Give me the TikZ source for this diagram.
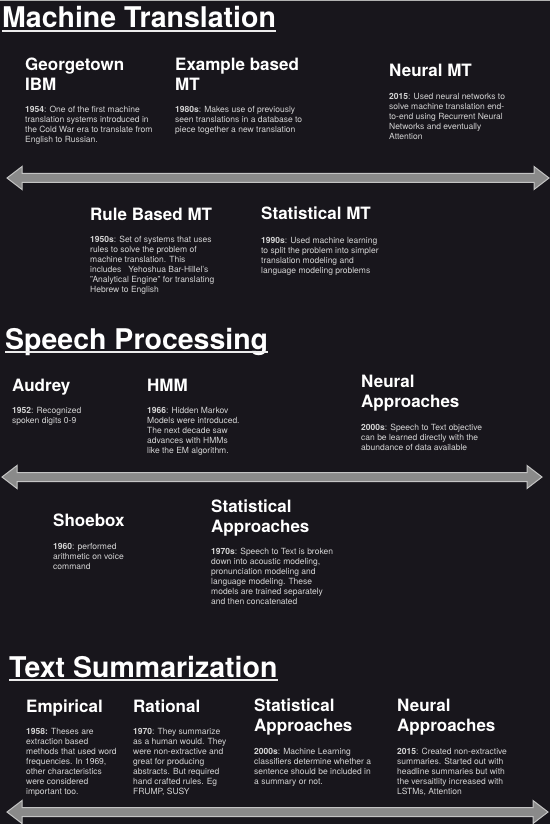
\documentclass[tikz,border=0pt]{standalone}
\usepackage{fontspec}
\setmainfont{TeX Gyre Heros}
\usetikzlibrary{calc}
\definecolor{bg}{HTML}{18161C}
\definecolor{desccol}{HTML}{D4D4D4}
\definecolor{arrfill}{HTML}{8A8A8A}
\definecolor{arredge}{HTML}{C4C4C4}
\tikzset{
  secttitle/.style={font=\fontsize{28.5}{32}\selectfont\bfseries, text=white, anchor=base west, inner sep=0pt},
  itemhead/.style={font=\fontsize{17}{20}\selectfont\bfseries, text=white, anchor=north west, align=left, inner sep=0pt},
  itemdesc/.style={font=\fontsize{8.5}{10}\selectfont, text=desccol, anchor=north west, align=left, inner sep=0pt},
  uline/.style={draw=white!85!gray, line width=1.4pt},
  timeline/.style={fill=arrfill, draw=arredge, line width=1pt, line join=miter},
}
\newcommand{\timearrow}[2]{%
  \filldraw[timeline] (#1) -- ($(#1)+(15,-11.5)$) -- ($(#1)+(15,-4.5)$) -- ($(#2)+(-15,-4.5)$) -- ($(#2)+(-15,-11.5)$) -- (#2)
    -- ($(#2)+(-15,11.5)$) -- ($(#2)+(-15,4.5)$) -- ($(#1)+(15,4.5)$) -- ($(#1)+(15,11.5)$) -- cycle;}
\begin{document}
\begin{tikzpicture}[x=1pt,y=-1pt]
\useasboundingbox (0,0) rectangle (550,834);
\fill[bg] (0,0) rectangle (550,834);
\fill[gray!60] (0,0) rectangle (550,1.5);

% ---------- Machine Translation ----------
\node[secttitle] (mt) at (2,28) {Machine Translation};
\draw[uline] ([yshift=-3pt]mt.base west) -- ([yshift=-3pt]mt.base east);

\node[itemhead] (geo) at (25,58) {Georgetown\\IBM};
\node[itemdesc] (geod) at (25,106) {\textbf{1954}: One of the first machine\\translation systems introduced in\\the Cold War era to translate from\\English to Russian.};

\node[itemhead] (ebmt) at (175,58) {Example based\\MT};
\node[itemdesc] (ebmtd) at (175,106) {\textbf{1980s}: Makes use of previously\\seen translations in a database to\\piece together a new translation};

\node[itemhead] (nmt) at (389,64) {Neural MT};
\node[itemdesc] (nmtd) at (389,93) {\textbf{2015}: Used neural networks to\\solve machine translation end-\\to-end using Recurrent Neural\\Networks and eventually\\Attention};

\coordinate (a1l) at (7,178);
\coordinate (a1r) at (549,178);
\timearrow{a1l}{a1r}

\node[itemhead] (rbmt) at (90,208) {Rule Based MT};
\node[itemdesc] (rbmtd) at (90,236) {\textbf{1950s}: Set of systems that uses\\rules to solve the problem of\\machine translation. This\\includes \ \ Yehoshua Bar-Hillel's\\"Analytical Engine" for translating\\Hebrew to English};

\node[itemhead] (smt) at (261,207) {Statistical MT};
\node[itemdesc] (smtd) at (261,237) {\textbf{1990s}: Used machine learning\\to split the problem into simpler\\translation modeling and\\language modeling problems};

% ---------- Speech Processing ----------
\node[secttitle] (sp) at (5,349) {Speech Processing};
\draw[uline] ([yshift=-3pt]sp.base west) -- ([yshift=-3pt]sp.base east);

\node[itemhead] (aud) at (12,379) {Audrey};
\node[itemdesc] (audd) at (12,407) {\textbf{1952}: Recognized\\spoken digits 0-9};

\node[itemhead] (hmm) at (147,379) {HMM};
\node[itemdesc] (hmmd) at (147,407) {\textbf{1966}: Hidden Markov\\Models were introduced.\\The next decade saw\\advances with HMMs\\like the EM algorithm.};

\node[itemhead] (nasp) at (361,375) {Neural\\Approaches};
\node[itemdesc] (naspd) at (361,424) {\textbf{2000s}: Speech to Text objective\\can be learned directly with the\\abundance of data available};

\coordinate (a2l) at (2,477);
\coordinate (a2r) at (542,477);
\timearrow{a2l}{a2r}

\node[itemhead] (shoe) at (53,514) {Shoebox};
\node[itemdesc] (shoed) at (53,543) {\textbf{1960}: performed\\arithmetic on voice\\command};

\node[itemhead] (sasp) at (211,500) {Statistical\\Approaches};
\node[itemdesc] (saspd) at (211,548) {\textbf{1970s}: Speech to Text is broken\\down into acoustic modeling,\\pronunciation modeling and\\language modeling. These\\models are trained separately\\and then concatenated};

% ---------- Text Summarization ----------
\node[secttitle] (ts) at (9,677) {Text Summarization};
\draw[uline] ([yshift=-3pt]ts.base west) -- ([yshift=-3pt]ts.base east);

\node[itemhead] (emp) at (26,700) {Empirical};
\node[itemdesc] (empd) at (26,728) {\textbf{1958:} Theses are\\extraction based\\methods that used word\\frequencies. In 1969,\\other characteristics\\were considered\\important too.};

\node[itemhead] (rat) at (133,700) {Rational};
\node[itemdesc] (ratd) at (133,728) {\textbf{1970}: They summarize\\as a human would. They\\were non-extractive and\\great for producing\\abstracts. But required\\hand crafted rules. Eg\\FRUMP, SUSY};

\node[itemhead] (sats) at (254,699) {Statistical\\Approaches};
\node[itemdesc] (satsd) at (254,748) {\textbf{2000s}: Machine Learning\\classifiers determine whether a\\sentence should be included in\\a summary or not.};

\node[itemhead] (nats) at (397,699) {Neural\\Approaches};
\node[itemdesc] (natsd) at (397,748) {\textbf{2015}: Created non-extractive\\summaries. Started out with\\headline summaries but with\\the versaitlity increased with\\LSTMs, Attention};

\coordinate (a3l) at (7,812);
\coordinate (a3r) at (548,812);
\timearrow{a3l}{a3r}

\fill[white] (0,824) rectangle (550,834);
\end{tikzpicture}
\end{document}
